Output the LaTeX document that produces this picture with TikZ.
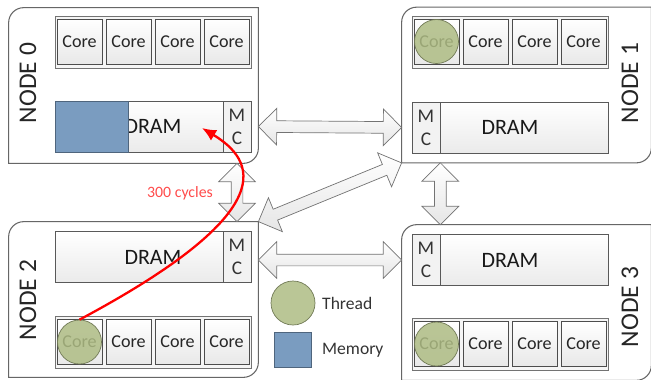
\documentclass[tikz,border=0pt]{standalone}
\usepackage{fontspec}
\setmainfont{Carlito}
\usetikzlibrary{shapes.arrows,calc,arrows.meta}

\definecolor{threadgreen}{HTML}{AEBC84}
\definecolor{memblue}{HTML}{7A9CC0}
\definecolor{cyclered}{HTML}{FF4B4B}

\begin{document}
\begin{tikzpicture}[
  nodearea/.style={rectangle, inner sep=0pt, minimum width=4.98cm, minimum height=3.10cm},
  nodeline/.style={draw=black!60, line width=0.6pt, fill=white},
  nodelabel/.style={rotate=90, font=\fontsize{14.5}{16}\selectfont, text=black!85},
  corerow/.style={rectangle, draw=black!55, fill=black!4, minimum width=3.92cm, minimum height=1.04cm},
  corebox/.style={rectangle, draw=black!70, top color=white, bottom color=black!9, minimum width=0.9cm, minimum height=0.9cm, inner sep=0pt, font=\fontsize{10.3}{12}\selectfont, text=black!85},
  drambox/.style={rectangle, draw=black!65, top color=white, bottom color=black!8, minimum width=3.92cm, minimum height=1.02cm, font=\fontsize{12.5}{14}\selectfont, text=black!90},
  mcbox/.style={rectangle, draw=black!65, fill=black!5, minimum width=0.56cm, minimum height=1.02cm, inner sep=0pt, align=center, font=\fontsize{11}{13}\selectfont, text=black!80},
  memrect/.style={rectangle, draw=memblue!65!black, fill=memblue, inner sep=0pt},
  thread/.style={circle, draw=threadgreen!65!black, fill=threadgreen, fill opacity=0.85, minimum size=0.88cm, inner sep=0pt},
  linkarrow/.style={double arrow, draw=black!55, top color=white, bottom color=black!10, inner xsep=0pt, inner ysep=0.11cm, minimum width=0.72cm, double arrow head extend=0.25cm},
  legendtext/.style={anchor=west, font=\fontsize{10}{12}\selectfont, text=black!80},
  cyclelabel/.style={font=\fontsize{9}{11}\selectfont, text=cyclered}
]
\useasboundingbox (0,0) rectangle (13.02,-7.58);

\node[nodearea] (n0) at (2.67, -1.71) {};
\node[nodearea] (n1) at (10.53, -1.70) {};
\node[nodearea] (n2) at (2.67, -5.99) {};
\node[nodearea] (n3) at (10.53, -6.05) {};
\draw[nodeline] (n0.north east) -- ([xshift=0.3cm]n0.north west) arc[start angle=90, end angle=180, radius=0.3cm] -- (n0.south west) -- ([xshift=-0.3cm]n0.south east) arc[start angle=-90, end angle=0, radius=0.3cm] -- cycle;
\draw[nodeline] (n1.north east) -- ([xshift=0.3cm]n1.north west) arc[start angle=90, end angle=180, radius=0.3cm] -- (n1.south west) -- ([xshift=-0.3cm]n1.south east) arc[start angle=-90, end angle=0, radius=0.3cm] -- cycle;
\draw[nodeline] (n2.north east) -- ([xshift=0.3cm]n2.north west) arc[start angle=90, end angle=180, radius=0.3cm] -- (n2.south west) -- ([xshift=-0.3cm]n2.south east) arc[start angle=-90, end angle=0, radius=0.3cm] -- cycle;
\draw[nodeline] (n3.north east) -- ([xshift=0.3cm]n3.north west) arc[start angle=90, end angle=180, radius=0.3cm] -- (n3.south west) -- ([xshift=-0.3cm]n3.south east) arc[start angle=-90, end angle=0, radius=0.3cm] -- cycle;

\node[nodelabel] (l0) at (0.56, -1.66) {NODE 0};
\node[nodelabel] (l1) at (12.6, -1.66) {NODE 1};
\node[nodelabel] (l2) at (0.56, -6.0) {NODE 2};
\node[nodelabel] (l3) at (12.6, -6.14) {NODE 3};

\node[corerow] (r0) at (3.06, -0.84) {};
\node[corebox] (c00) at (1.59, -0.83) {Core};
\node[corebox] (c01) at (2.57, -0.83) {Core};
\node[corebox] (c02) at (3.55, -0.83) {Core};
\node[corebox] (c03) at (4.53, -0.83) {Core};
\node[drambox] (d0) at (3.06, -2.53) {DRAM};
\node[memrect, minimum width=1.46cm, minimum height=1.02cm] (mem0) at (1.83, -2.53) {};
\node[mcbox] (m0) at (4.74, -2.53) {M\\C};

\node[corerow] (r1) at (10.21, -0.84) {};
\node[corebox] (c10) at (8.73, -0.83) {Core};
\node[corebox] (c11) at (9.71, -0.83) {Core};
\node[corebox] (c12) at (10.69, -0.83) {Core};
\node[corebox] (c13) at (11.67, -0.83) {Core};
\node[drambox] (d1) at (10.20, -2.55) {DRAM};
\node[mcbox] (m1) at (8.52, -2.55) {M\\C};
\node[thread] (t1) at (c10) {};

\node[drambox] (d2) at (3.06, -5.14) {DRAM};
\node[mcbox] (m2) at (4.74, -5.14) {M\\C};
\node[corerow] (r2) at (3.06, -6.84) {};
\node[corebox] (c20) at (1.59, -6.84) {Core};
\node[corebox] (c21) at (2.57, -6.84) {Core};
\node[corebox] (c22) at (3.55, -6.84) {Core};
\node[corebox] (c23) at (4.53, -6.84) {Core};
\node[thread] (t2) at (c20) {};

\node[drambox] (d3) at (10.20, -5.20) {DRAM};
\node[mcbox] (m3) at (8.52, -5.20) {M\\C};
\node[corerow] (r3) at (10.21, -6.88) {};
\node[corebox] (c30) at (8.73, -6.88) {Core};
\node[corebox] (c31) at (9.71, -6.88) {Core};
\node[corebox] (c32) at (10.69, -6.88) {Core};
\node[corebox] (c33) at (11.67, -6.88) {Core};
\node[thread] (t3) at (c30) {};

\path let \p1=($(m1 -| n1.west)-(m0 -| n0.east)$) in node[linkarrow, minimum height={veclen(\x1,\y1)}, rotate={atan2(\y1,\x1)}] (a01) at ($(m0 -| n0.east)!0.5!(m1 -| n1.west)$) {};
\path let \p1=($(m3 -| n3.west)-(m3 -| n2.east)$) in node[linkarrow, minimum height={veclen(\x1,\y1)}, rotate={atan2(\y1,\x1)}] (a23) at ($(m3 -| n2.east)!0.5!(m3 -| n3.west)$) {};
\path let \p1=($(m0 |- n2.north)-(m0 |- n0.south)$) in node[linkarrow, minimum height={veclen(\x1,\y1)}, rotate={atan2(\y1,\x1)}] (a02) at ($(m0 |- n0.south)!0.5!(m0 |- n2.north)$) {};
\path let \p1=($(m1.east |- n3.north)-(m1.east |- n1.south)$) in node[linkarrow, minimum height={veclen(\x1,\y1)}, rotate={atan2(\y1,\x1)}] (a13) at ($(m1.east |- n1.south)!0.5!(m1.east |- n3.north)$) {};
\path let \p1=($(n1.south west)-(n2.north east)$) in node[linkarrow, minimum height={veclen(\x1,\y1)}, rotate={atan2(\y1,\x1)}] (a21) at ($(n2.north east)!0.5!(n1.south west)$) {};

\node[thread] (lt) at (5.86, -6.06) {};
\node[legendtext] (ltt) at (6.32, -6.06) {Thread};
\node[memrect, minimum width=0.74cm, minimum height=0.70cm] (lm) at (5.85, -6.99) {};
\node[legendtext] (lmt) at (6.32, -7.0) {Memory};

\coordinate (tgt) at (4.04, -2.56);
\draw[-{Latex[length=8pt, width=7pt]}, red, line width=1.3pt] (t2.north) .. controls (5.70, -4.20) and (5.10, -3.20) .. (tgt);
\node[cyclelabel] (cyc) at (3.6, -3.86) {300 cycles};

\end{tikzpicture}
\end{document}
